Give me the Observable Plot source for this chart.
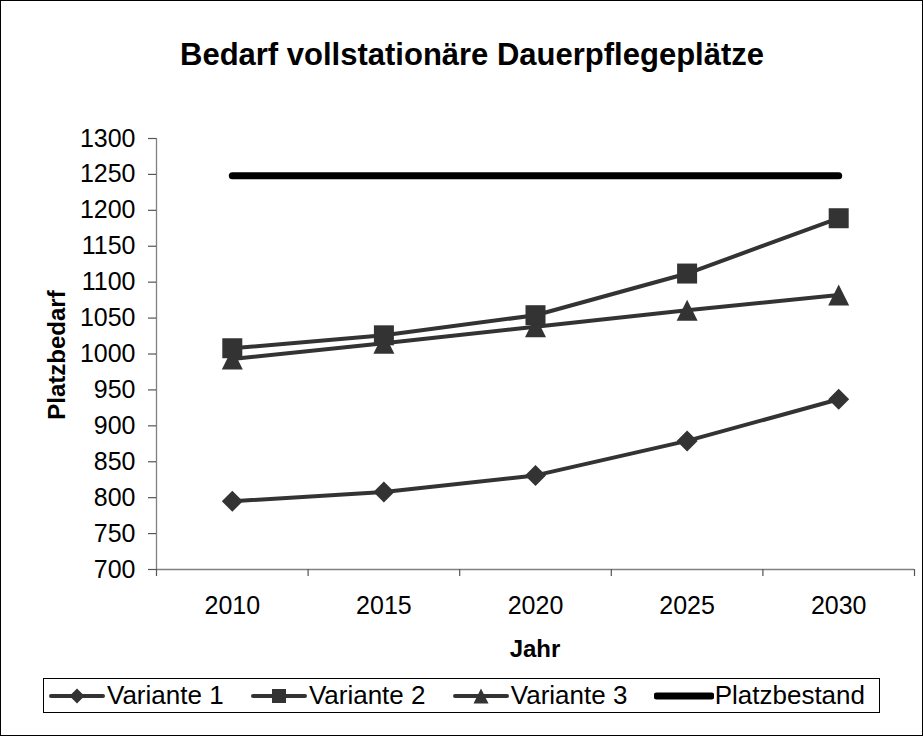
<!DOCTYPE html>
<html>
<head>
<meta charset="utf-8">
<script src="https://cdn.jsdelivr.net/npm/d3@7"></script>
<script src="https://cdn.jsdelivr.net/npm/@observablehq/plot@0.6"></script>
<style>
  html, body { margin: 0; padding: 0; background: #fff; }
  #wrap { position: relative; width: 923px; height: 736px; background: #fff; overflow: hidden;
          font-family: "Liberation Sans", Arial, sans-serif; color: #000; }
  #border { position: absolute; left: 0; top: 0; width: 923px; height: 736px; box-sizing: border-box;
            border: 1px solid #000; pointer-events: none; }
  #chart { position: absolute; left: 0; top: 0; }
  #title { position: absolute; left: 0; width: 944px; top: 37px; text-align: center;
           font-weight: bold; font-size: 31px; line-height: 36px; white-space: nowrap; }
  #ylab { position: absolute; left: 57px; top: 355px; transform: translate(-50%, -50%) rotate(-90deg);
          font-weight: bold; font-size: 24px; white-space: nowrap; }
  #xlab { position: absolute; left: 535px; top: 649px; transform: translate(-50%, -50%);
          font-weight: bold; font-size: 24px; white-space: nowrap; }
  #legend { position: absolute; left: 43px; top: 678px; width: 837px; height: 35px; box-sizing: border-box;
            border: 1px solid #000; display: flex; align-items: center; justify-content: space-between;
            padding: 0 14px 0 4px; font-size: 26px; white-space: nowrap; }
  .item { display: flex; align-items: center; }
  .item svg { display: block; margin-right: 1px; }
</style>
</head>
<body>
<div id="wrap">
  <div id="chart"></div>
  <div id="title"></div>
  <div id="ylab"></div>
  <div id="xlab"></div>
  <div id="legend"></div>
  <div id="border"></div>
</div>
<script>
// ---- data ----
const chartTitle = "Bedarf vollstationäre Dauerpflegeplätze";
const xTitle = "Jahr";
const yTitle = "Platzbedarf";
const years = [2010, 2015, 2020, 2025, 2030];
const variante1 = [795, 808, 831, 879, 937];
const variante2 = [1008, 1026, 1054, 1112, 1189];
const variante3 = [993, 1015, 1038, 1061, 1082];
const platzbestand = [1248, 1248, 1248, 1248, 1248];
const seriesNames = ["Variante 1", "Variante 2", "Variante 3", "Platzbestand"];
const yTicks = [700, 750, 800, 850, 900, 950, 1000, 1050, 1100, 1150, 1200, 1250, 1300];
const yDomain = [700, 1300];

// ---- symbols (box-sized custom shapes) ----
const diamondSym = {draw(ctx, size) { const h = Math.sqrt(size) / 2; ctx.moveTo(0, -h); ctx.lineTo(h, 0); ctx.lineTo(0, h); ctx.lineTo(-h, 0); ctx.closePath(); }};
const squareSym = {draw(ctx, size) { const h = Math.sqrt(size) / 2; ctx.rect(-h, -h, 2 * h, 2 * h); }};
const triangleSym = {draw(ctx, size) { const h = Math.sqrt(size) / 2; ctx.moveTo(0, -h); ctx.lineTo(h, h); ctx.lineTo(-h, h); ctx.closePath(); }};
const rFor = (box) => box / Math.sqrt(Math.PI);

const seriesValues = [variante1, variante2, variante3, platzbestand];
const seriesSymbols = [diamondSym, squareSym, triangleSym, null];
const seriesMarkerBox = [21, 20, 21, 0];
const seriesColor = ["#333333", "#333333", "#333333", "#000000"];
const seriesWidth = [4, 4, 4, 7];

const table = [];
seriesNames.forEach((name, i) => {
  years.forEach((yr, j) => table.push({series: name, year: yr, value: seriesValues[i][j]}));
});

const step = years[1] - years[0];
const xDomain = [years[0] - step / 2, years[years.length - 1] + step / 2];
const boundaries = [years[0] - step / 2, ...years.map(y => y + step / 2)];

const marks = [
  Plot.ruleX([xDomain[0]], {y1: yDomain[0], y2: yDomain[1], stroke: "#808080", strokeWidth: 1.3}),
  Plot.ruleY([yDomain[0]], {stroke: "#808080", strokeWidth: 1.3}),
  Plot.axisY({ticks: yTicks, tickSize: 8, tickPadding: 13, tickFormat: d => String(d), label: null, stroke: "#555", strokeWidth: 1.2, fontSize: 25}),
  Plot.axisX({ticks: boundaries, tickSize: 7, tickFormat: () => "", label: null, stroke: "#555", strokeWidth: 1.2}),
  Plot.axisX({ticks: years, tickSize: 0, tickPadding: 27, tickFormat: d => String(d), label: null, fontSize: 25})
];
seriesNames.forEach((name, i) => {
  const data = table.filter(d => d.series === name);
  marks.push(Plot.line(data, {x: "year", y: "value", stroke: seriesColor[i], strokeWidth: seriesWidth[i],
    strokeLinecap: "round", strokeLinejoin: "round"}));
});
seriesNames.forEach((name, i) => {
  if (!seriesSymbols[i]) return;
  const data = table.filter(d => d.series === name);
  marks.push(Plot.dot(data, {x: "year", y: "value", symbol: () => seriesSymbols[i], r: rFor(seriesMarkerBox[i]),
    fill: seriesColor[i], stroke: "none"}));
});

const chart = Plot.plot({
  width: 923,
  height: 736,
  marginLeft: 156,
  marginRight: 9,
  marginTop: 138,
  marginBottom: 167,
  style: {fontFamily: "'Liberation Sans', Arial, sans-serif", fontSize: "25px", color: "#000", background: "transparent", overflow: "visible"},
  x: {type: "linear", domain: xDomain},
  y: {type: "linear", domain: yDomain},
  symbol: {type: "identity"},
  marks
});
document.getElementById("chart").appendChild(chart);
document.getElementById("title").textContent = chartTitle;
document.getElementById("xlab").textContent = xTitle;
document.getElementById("ylab").textContent = yTitle;

// ---- legend ----
const legend = document.getElementById("legend");
const legendMarkerBox = [15, 14, 15, 0];
seriesNames.forEach((name, i) => {
  const item = document.createElement("div");
  item.className = "item";
  const w = i === 3 ? 60 : 58, h = 20;
  const svg = d3.create("svg").attr("width", w).attr("height", h);
  svg.append("line").attr("x1", 3).attr("x2", w - 3).attr("y1", h / 2).attr("y2", h / 2)
    .attr("stroke", seriesColor[i]).attr("stroke-width", seriesWidth[i]).attr("stroke-linecap", "round");
  if (seriesSymbols[i]) {
    const s = legendMarkerBox[i];
    svg.append("path").attr("transform", `translate(${w / 2},${h / 2})`)
      .attr("d", d3.symbol(seriesSymbols[i], s * s)()).attr("fill", seriesColor[i]);
  }
  item.appendChild(svg.node());
  const label = document.createElement("span");
  label.textContent = name;
  item.appendChild(label);
  legend.appendChild(item);
});
</script>
</body>
</html>
